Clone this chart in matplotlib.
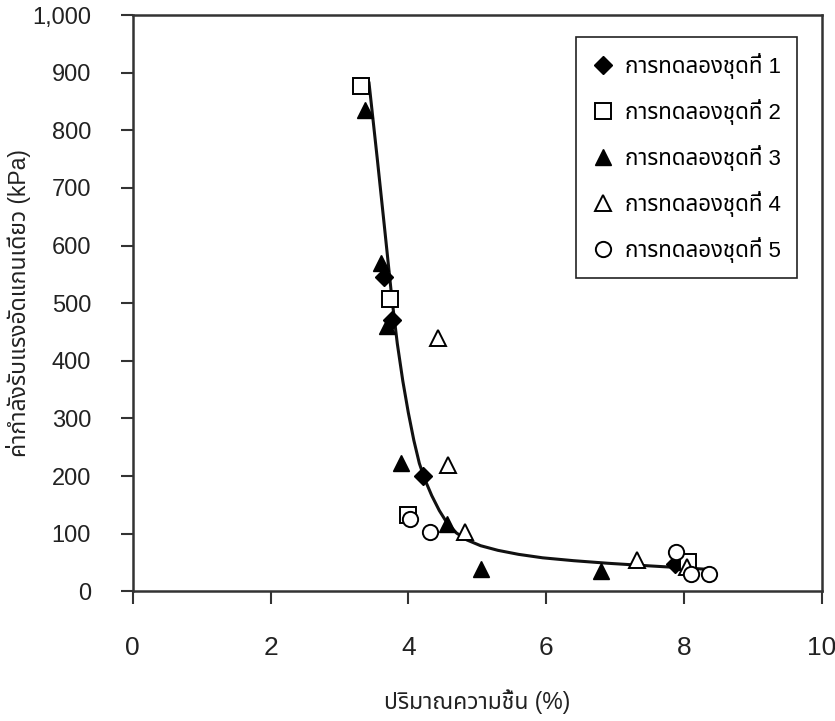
import matplotlib
matplotlib.use("Agg")
import matplotlib.pyplot as plt
from matplotlib.ticker import FuncFormatter

thai = ['Liberation Sans', 'Noto Sans Thai']
narrow = ['Liberation Sans Narrow', 'Liberation Sans']

# moisture content (%) and unconfined compressive strength (kPa) per test set
set1_x = [3.64, 3.76, 4.21, 7.87]
set1_y = [545, 470, 200, 48]
set2_x = [3.31, 3.73, 3.99, 8.06]
set2_y = [877, 508, 132, 50]
set3_x = [3.37, 3.60, 3.69, 3.89, 4.56, 5.05, 6.80]
set3_y = [835, 570, 460, 222, 116, 38, 35]
set4_x = [4.43, 4.57, 4.82, 7.32, 8.05]
set4_y = [439, 219, 102, 54, 42]
set5_x = [4.02, 4.32, 7.88, 8.11, 8.36]
set5_y = [125, 102, 68, 30, 30]

# trend line
trend_x = [3.43, 3.55, 3.66, 3.76, 3.84, 3.92, 4.00, 4.08, 4.16, 4.24, 4.34, 4.45,
           4.56, 4.70, 4.85, 5.05, 5.30, 5.60, 5.95, 6.40, 6.90, 7.50, 8.00, 8.42]
trend_y = [882, 750, 625, 510, 430, 365, 310, 262, 222, 194, 166, 140,
           119, 101, 89, 79, 71, 64, 58, 53, 48.5, 44, 40.5, 37.5]

labels = ['การทดลองชุดที่ 1', 'การทดลองชุดที่ 2', 'การทดลองชุดที่ 3',
          'การทดลองชุดที่ 4', 'การทดลองชุดที่ 5']
xticks = [0, 2, 4, 6, 8, 10]
yticks = [0, 100, 200, 300, 400, 500, 600, 700, 800, 900, 1000]

fig = plt.figure(figsize=(8.35, 7.21), dpi=100)
ax = fig.add_axes([0.159, 0.180, 0.825, 0.799])

ax.plot(trend_x, trend_y, color='#111111', lw=2.2, zorder=2)

ax.plot(set1_x, set1_y, 'D', ms=9, mfc='black', mec='black', label=labels[0], zorder=3)
ax.plot(set2_x, set2_y, 's', ms=11, mfc='white', mec='black', mew=1.4, label=labels[1], zorder=3)
ax.plot(set3_x, set3_y, '^', ms=12, mfc='black', mec='black', label=labels[2], zorder=3)
ax.plot(set4_x, set4_y, '^', ms=12, mfc='white', mec='black', mew=1.4, label=labels[3], zorder=3)
ax.plot(set5_x, set5_y, 'o', ms=11, mfc='white', mec='black', mew=1.4, label=labels[4], zorder=3)

ax.set_xlim(0, 10)
ax.set_ylim(0, 1000)
ax.set_xticks(xticks)
ax.set_yticks(yticks)
ax.yaxis.set_major_formatter(FuncFormatter(lambda v, p: '{:,.0f}'.format(v)))

for s in ax.spines.values():
    s.set_linewidth(1.8)
    s.set_color('#333333')
ax.tick_params(axis='both', direction='out', length=9, width=1.5, color='#333333')
ax.tick_params(axis='y', labelsize=17, pad=21)
ax.tick_params(axis='x', labelsize=19, pad=23)
for t in ax.get_yticklabels():
    t.set_family('Liberation Sans')
    t.set_color('#222222')
for t in ax.get_xticklabels():
    t.set_family(narrow)
    t.set_color('#222222')

ax.set_xlabel('ปริมาณความชื้น (%)', fontsize=16.5, family=thai, color='#222222', labelpad=21)
ax.set_ylabel('ค่ากำลังรับแรงอัดแกนเดียว (kPa)', fontsize=16.5, family=thai, color='#222222', labelpad=1)

leg = ax.legend(loc='upper right', bbox_to_anchor=(0.964, 0.962), prop={'family': thai, 'size': 16},
                frameon=True, fancybox=False, edgecolor='#222222', framealpha=1,
                labelspacing=0.9, handlelength=1.0, handletextpad=0.5, borderpad=0.7,
                borderaxespad=0)
leg.get_frame().set_linewidth(1.2)

fig.savefig('out.png')
